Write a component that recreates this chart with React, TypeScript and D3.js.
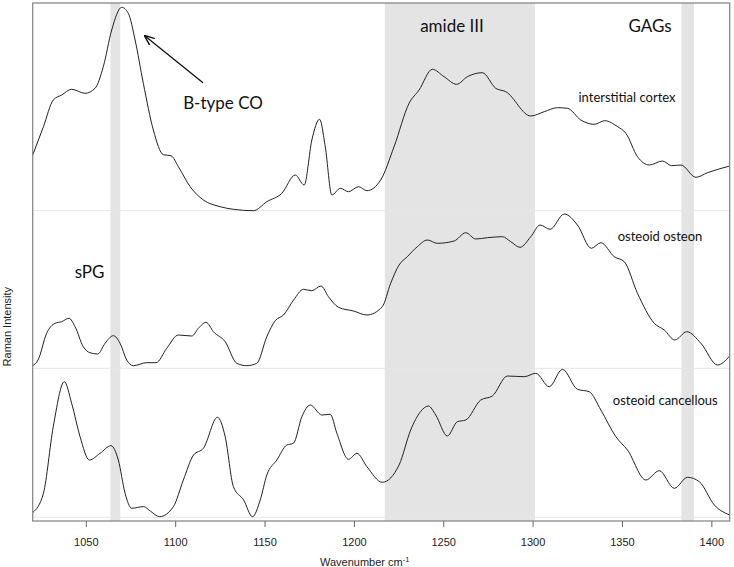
import React from "react";
import * as d3 from "d3";

// wavenumber range and ticks
const xDomain = [1020, 1410];
const xTicks = [1050, 1100, 1150, 1200, 1250, 1300, 1350, 1400];

// shaded bands [start, end]
const bands = [
  [1063.5, 1069],
  [1217, 1301],
  [1383, 1390],
];

// interstitial cortex
const cortexW = [
  1020, 1026, 1031.5, 1036.2, 1041.8, 1049.3, 1054.9, 1059.5, 1064.2, 1069.8,
  1073.5, 1077.3, 1081.9, 1087.5, 1093.1, 1097.4, 1101.5, 1108.1, 1115.5, 1124.9,
  1132.3, 1143.5, 1151, 1159.4, 1166.9, 1171.9, 1176.2, 1180.5, 1183.7, 1187.4,
  1192.1, 1196.7, 1202.3, 1207, 1214.7, 1222.2, 1230.6, 1236.2, 1243.6, 1250.2,
  1257.2, 1263.2, 1271.6, 1279.1, 1284.7, 1298.7, 1306.2, 1313.6, 1319.2, 1326.7,
  1334.2, 1340.1, 1347.3, 1351.9, 1358.4, 1365, 1372.4, 1377.5, 1382.7, 1391.1,
  1397.6, 1410,
];
const cortexI = [
  0.557, 0.84, 1.107, 1.157, 1.214, 1.174, 1.224, 1.44, 1.807, 2.034,
  1.974, 1.707, 1.274, 0.807, 0.56, 0.55, 0.44, 0.24, 0.107, 0.04,
  0.014, 0.0, 0.09, 0.174, 0.357, 0.257, 0.707, 0.914, 0.64, 0.157,
  0.224, 0.19, 0.24, 0.2, 0.307, 0.64, 1.074, 1.207, 1.414, 1.34,
  1.264, 1.34, 1.38, 1.224, 1.19, 0.947, 0.99, 1.03, 1.024, 0.907,
  0.864, 0.9, 0.84, 0.774, 0.54, 0.457, 0.497, 0.45, 0.457, 0.334,
  0.38, 0.447,
];

// osteoid osteon
const osteonW = [
  1020, 1023, 1027.8, 1032.5, 1036.2, 1040.3, 1043.7, 1048.3, 1052, 1056.4,
  1060.5, 1065.1, 1068.9, 1072.6, 1076.3, 1083.8, 1089, 1095, 1101.5, 1109,
  1112.7, 1117, 1121.1, 1127.7, 1134.2, 1139.8, 1145.4, 1151, 1155.7, 1160.3,
  1166, 1171.5, 1176.2, 1181.3, 1185.5, 1191.1, 1199.5, 1207, 1215.6, 1220.3,
  1225, 1229.6, 1235.2, 1240.8, 1246.4, 1255.8, 1262.3, 1267.9, 1274.4, 1282.8,
  1287.5, 1292.7, 1298.7, 1303.9, 1309.5, 1317.4, 1324.8, 1332.6, 1337.9, 1345.4,
  1351, 1358.4, 1367.8, 1373.4, 1379.3, 1386, 1393.9, 1403.2, 1410,
];
const osteonI = [
  0.026, 0.083, 0.35, 0.45, 0.466, 0.5, 0.416, 0.216, 0.156, 0.143,
  0.25, 0.326, 0.25, 0.083, 0.026, 0.056, 0.056, 0.2, 0.333, 0.323,
  0.4, 0.46, 0.366, 0.266, 0.05, 0.026, 0.05, 0.316, 0.476, 0.533,
  0.683, 0.79, 0.776, 0.823, 0.716, 0.61, 0.573, 0.533, 0.616, 0.85,
  1.033, 1.116, 1.216, 1.283, 1.25, 1.273, 1.356, 1.293, 1.306, 1.316,
  1.266, 1.21, 1.316, 1.433, 1.39, 1.543, 1.433, 1.2, 1.256, 1.116,
  1.066, 0.75, 0.45, 0.383, 0.283, 0.366, 0.25, 0.033, 0.123,
];

// osteoid cancellous
const cancellousW = [
  1020, 1026, 1031.5, 1037.7, 1041.8, 1046.5, 1051.7, 1057.7, 1063.8, 1067.9,
  1071.7, 1075.4, 1082, 1086, 1091, 1098.7, 1104.3, 1110, 1115.5, 1123.4,
  1127.7, 1132.3, 1138, 1143, 1147.3, 1151, 1156.6, 1162.2, 1165.9, 1170.6,
  1175.3, 1181.8, 1186.5, 1190.2, 1196.7, 1201.4, 1207, 1215.6, 1225, 1231.5,
  1237, 1241.4, 1245.5, 1252, 1257.6, 1262.3, 1270.7, 1277.2, 1285.6, 1295,
  1301.5, 1309, 1316.4, 1324.8, 1331.4, 1337.9, 1346.3, 1352.8, 1363.1, 1370.6,
  1379, 1386.4, 1393, 1401.4, 1410,
];
const cancellousI = [
  0.046, 0.24, 0.906, 1.356, 1.14, 0.806, 0.573, 0.64, 0.716, 0.573,
  0.24, 0.09, 0.107, 0.06, 0.006, 0.106, 0.373, 0.623, 0.69, 1.0,
  0.806, 0.306, 0.173, 0.006, 0.173, 0.423, 0.573, 0.723, 0.74, 1.006,
  1.123, 1.023, 1.03, 0.84, 0.58, 0.64, 0.506, 0.35, 0.523, 0.873,
  1.056, 1.113, 1.023, 0.813, 0.956, 0.973, 1.173, 1.213, 1.413, 1.406,
  1.44, 1.306, 1.48, 1.28, 1.256, 1.073, 0.806, 0.673, 0.373, 0.466,
  0.29, 0.4, 0.356, 0.123, 0.023,
];

const spectrumNames = ["interstitial cortex", "osteoid osteon", "osteoid cancellous"];
const spectrumOffsets = [3.103, 1.527, 0.037];
const spectrumW = [cortexW, osteonW, cancellousW];
const spectrumI = [cortexI, osteonI, cancellousI];

const W = 734;
const H = 567;
const left = 32.7;
const right = 729.7;
const top = 3;
const bottom = 521;

const App: React.FC = () => {
  const x = d3.scaleLinear().domain(xDomain).range([left, right]);
  const y = d3.scaleLinear().domain([0, 5.18]).range([bottom, top]);

  const line = d3
    .line<[number, number]>()
    .x((d) => x(d[0]))
    .y((d) => y(d[1]))
    .curve(d3.curveMonotoneX);

  const annot = { fontFamily: "Lato, 'Open Sans', sans-serif", fill: "#111" };
  const axisFont = "'Liberation Sans', Arial, sans-serif";

  return (
    <svg
      width={W}
      height={H}
      style={{ position: "absolute", left: 0, top: 0, background: "#fff" }}
    >
      <defs>
        <marker
          id="arrowHead"
          viewBox="0 0 10 10"
          refX="9"
          refY="5"
          markerWidth="8"
          markerHeight="8"
          orient="auto"
        >
          <path d="M0,1 L10,5 L0,9" fill="none" stroke="#111" strokeWidth={1.4} />
        </marker>
        <clipPath id="plotClip">
          <rect x={left} y={top} width={right - left} height={bottom - top} />
        </clipPath>
      </defs>

      {bands.map((b, i) => (
        <rect
          key={"band" + i}
          x={x(b[0])}
          y={top}
          width={x(b[1]) - x(b[0])}
          height={bottom - top}
          fill="#e4e4e4"
        />
      ))}

      {spectrumOffsets.map((o, i) => (
        <line
          key={"base" + i}
          x1={left}
          x2={right}
          y1={y(o)}
          y2={y(o)}
          stroke="#e6e6e6"
          strokeWidth={1}
        />
      ))}

      <g clipPath="url(#plotClip)">
        {spectrumW.map((ws, i) => (
          <path
            key={"spec" + i}
            d={line(ws.map((w, j) => [w, spectrumI[i][j] + spectrumOffsets[i]]))!}
            fill="none"
            stroke="#222"
            strokeWidth={1}
          />
        ))}
      </g>

      {/* frame */}
      <rect
        x={left}
        y={top}
        width={right - left}
        height={bottom - top}
        fill="none"
        stroke="#808080"
        strokeWidth={1.2}
      />

      {xTicks.map((t) => (
        <g key={"tick" + t}>
          <line x1={x(t)} x2={x(t)} y1={bottom} y2={bottom + 6} stroke="#666" />
          <text
            x={x(t)}
            y={541.7}
            dy="0.35em"
            textAnchor="middle"
            fontSize={11}
            fontFamily={axisFont}
            fill="#222"
          >
            {t}
          </text>
        </g>
      ))}

      <text x={320} y={561.7} dy="0.35em" fontSize={11} fontFamily={axisFont} fill="#222">
        Wavenumber cm
        <tspan dy="-0.45em" fontSize={7.5}>
          -1
        </tspan>
      </text>

      <text
        transform="translate(7.5,326.7) rotate(-90)"
        textAnchor="middle"
        dy="0.35em"
        fontSize={11}
        fontFamily={axisFont}
        fill="#222"
      >
        Raman Intensity
      </text>

      {/* annotations */}
      <text x={452} y={26} dy="0.35em" textAnchor="middle" fontSize={17} {...annot}>
        amide III
      </text>
      <text x={650} y={26} dy="0.35em" textAnchor="middle" fontSize={17} {...annot}>
        GAGs
      </text>
      <text x={223} y={103} dy="0.35em" textAnchor="middle" fontSize={17} {...annot}>
        B-type CO
      </text>
      <text x={89.5} y={271.7} dy="0.35em" textAnchor="middle" fontSize={17} {...annot}>
        sPG
      </text>
      <text x={627} y={97.7} dy="0.35em" textAnchor="middle" fontSize={13} {...annot}>
        {spectrumNames[0]}
      </text>
      <text x={660} y={236} dy="0.35em" textAnchor="middle" fontSize={13} {...annot}>
        {spectrumNames[1]}
      </text>
      <text x={665.3} y={400} dy="0.35em" textAnchor="middle" fontSize={13} {...annot}>
        {spectrumNames[2]}
      </text>

      <line
        x1={203}
        y1={82.7}
        x2={145}
        y2={36}
        stroke="#111"
        strokeWidth={1.3}
        markerEnd="url(#arrowHead)"
      />
    </svg>
  );
};

export default App;
